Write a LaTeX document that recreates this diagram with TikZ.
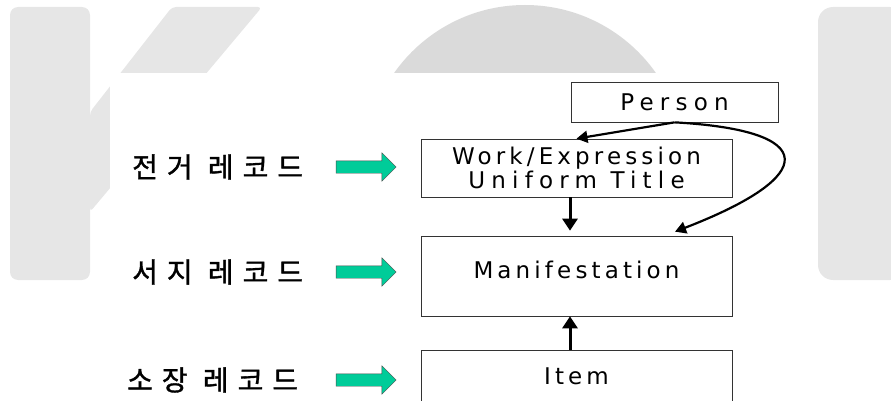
\documentclass[tikz,border=0pt]{standalone}
\usepackage{fontspec}
\newfontfamily\kofont[LetterSpace=32,FakeBold=1.2]{Noto Sans CJK KR}
\newfontfamily\enfont[LetterSpace=18]{DejaVu Sans}
\usetikzlibrary{arrows.meta,shapes.arrows,positioning}
\definecolor{wmgray}{HTML}{E6E6E6}
\definecolor{wmdark}{HTML}{DADADA}
\definecolor{arrgreen}{HTML}{00CC99}
\tikzset{
  box/.style={draw=black!80, line width=0.7pt, inner sep=0pt, align=center, font=\enfont\fontsize{23}{19.5}\selectfont},
  conn/.style={-{Triangle[length=12pt,width=15pt]}, line width=3pt},
  thinconn/.style={-{Triangle[length=11pt,width=12pt]}, line width=2.2pt},
  greenarrow/.style={single arrow, draw=black!70, fill=arrgreen, line width=0.4pt, inner sep=6pt, minimum height=60pt, single arrow head extend=8pt, single arrow tip angle=90, single arrow head indent=0pt},
  reclabel/.style={anchor=west, inner sep=0pt, font=\kofont\fontsize{28}{28}\selectfont}
}
\newcommand\widesp[1]{{\addfontfeature{LetterSpace=27}#1}}
\begin{document}
\begin{tikzpicture}[x=1pt,y=-1pt]
\useasboundingbox (0,0) rectangle (891,401);
% watermark behind the figure
\fill[wmgray, rounded corners=8pt] (10,7) rectangle (90,280);
\fill[wmgray, rounded corners=4pt] (172,7) -- (262,7) -- (90,212) -- (90,112) -- cycle;
\begin{scope}
\clip (0,0) rectangle (891,73);
\fill[wmdark] (525,165) circle (160pt);
\end{scope}
\fill[wmgray, rounded corners=15pt] (818,7) rectangle (905,280);
\fill[white] (110,73) rectangle (805,401);

\node[box, minimum width=207pt, minimum height=40pt] (person) at (674.5,102) {\widesp{Person}};
\node[box, minimum width=311pt, minimum height=58pt] (work) at (576.5,168) {Work/Expression\\\widesp{Uniform Title}};
\node[box, minimum width=311pt, minimum height=80pt, text height=17pt, text depth=12pt] (manif) at (576.5,276) {Manifestation};
\node[box, minimum width=311pt, minimum height=54pt, text height=17pt, text depth=2pt] (item) at (576.5,377) {Item};

\draw[conn] ([xshift=-6.5pt]work.south) -- ([xshift=-6.5pt,yshift=5pt]manif.north);
\draw[conn] ([xshift=-6.5pt]item.north) -- ([xshift=-6.5pt]manif.south);
\draw[thinconn] (person.south) -- (work.north);
\draw[thinconn] (person.south) .. controls +(145,8) and +(145,-56) .. ([xshift=98.5pt,yshift=4pt]manif.north);

\foreach \txt/\yy/\xx/\nm in {전거 레코드/167/132/auth, 서지 레코드/272/132/bib, 소장 레코드/380/127/hold} {
  \node[reclabel] (lbl-\nm) at (\xx,\yy) {\txt};
  \node[greenarrow] (arr-\nm) at (363,\yy) {};
}
\end{tikzpicture}
\end{document}
